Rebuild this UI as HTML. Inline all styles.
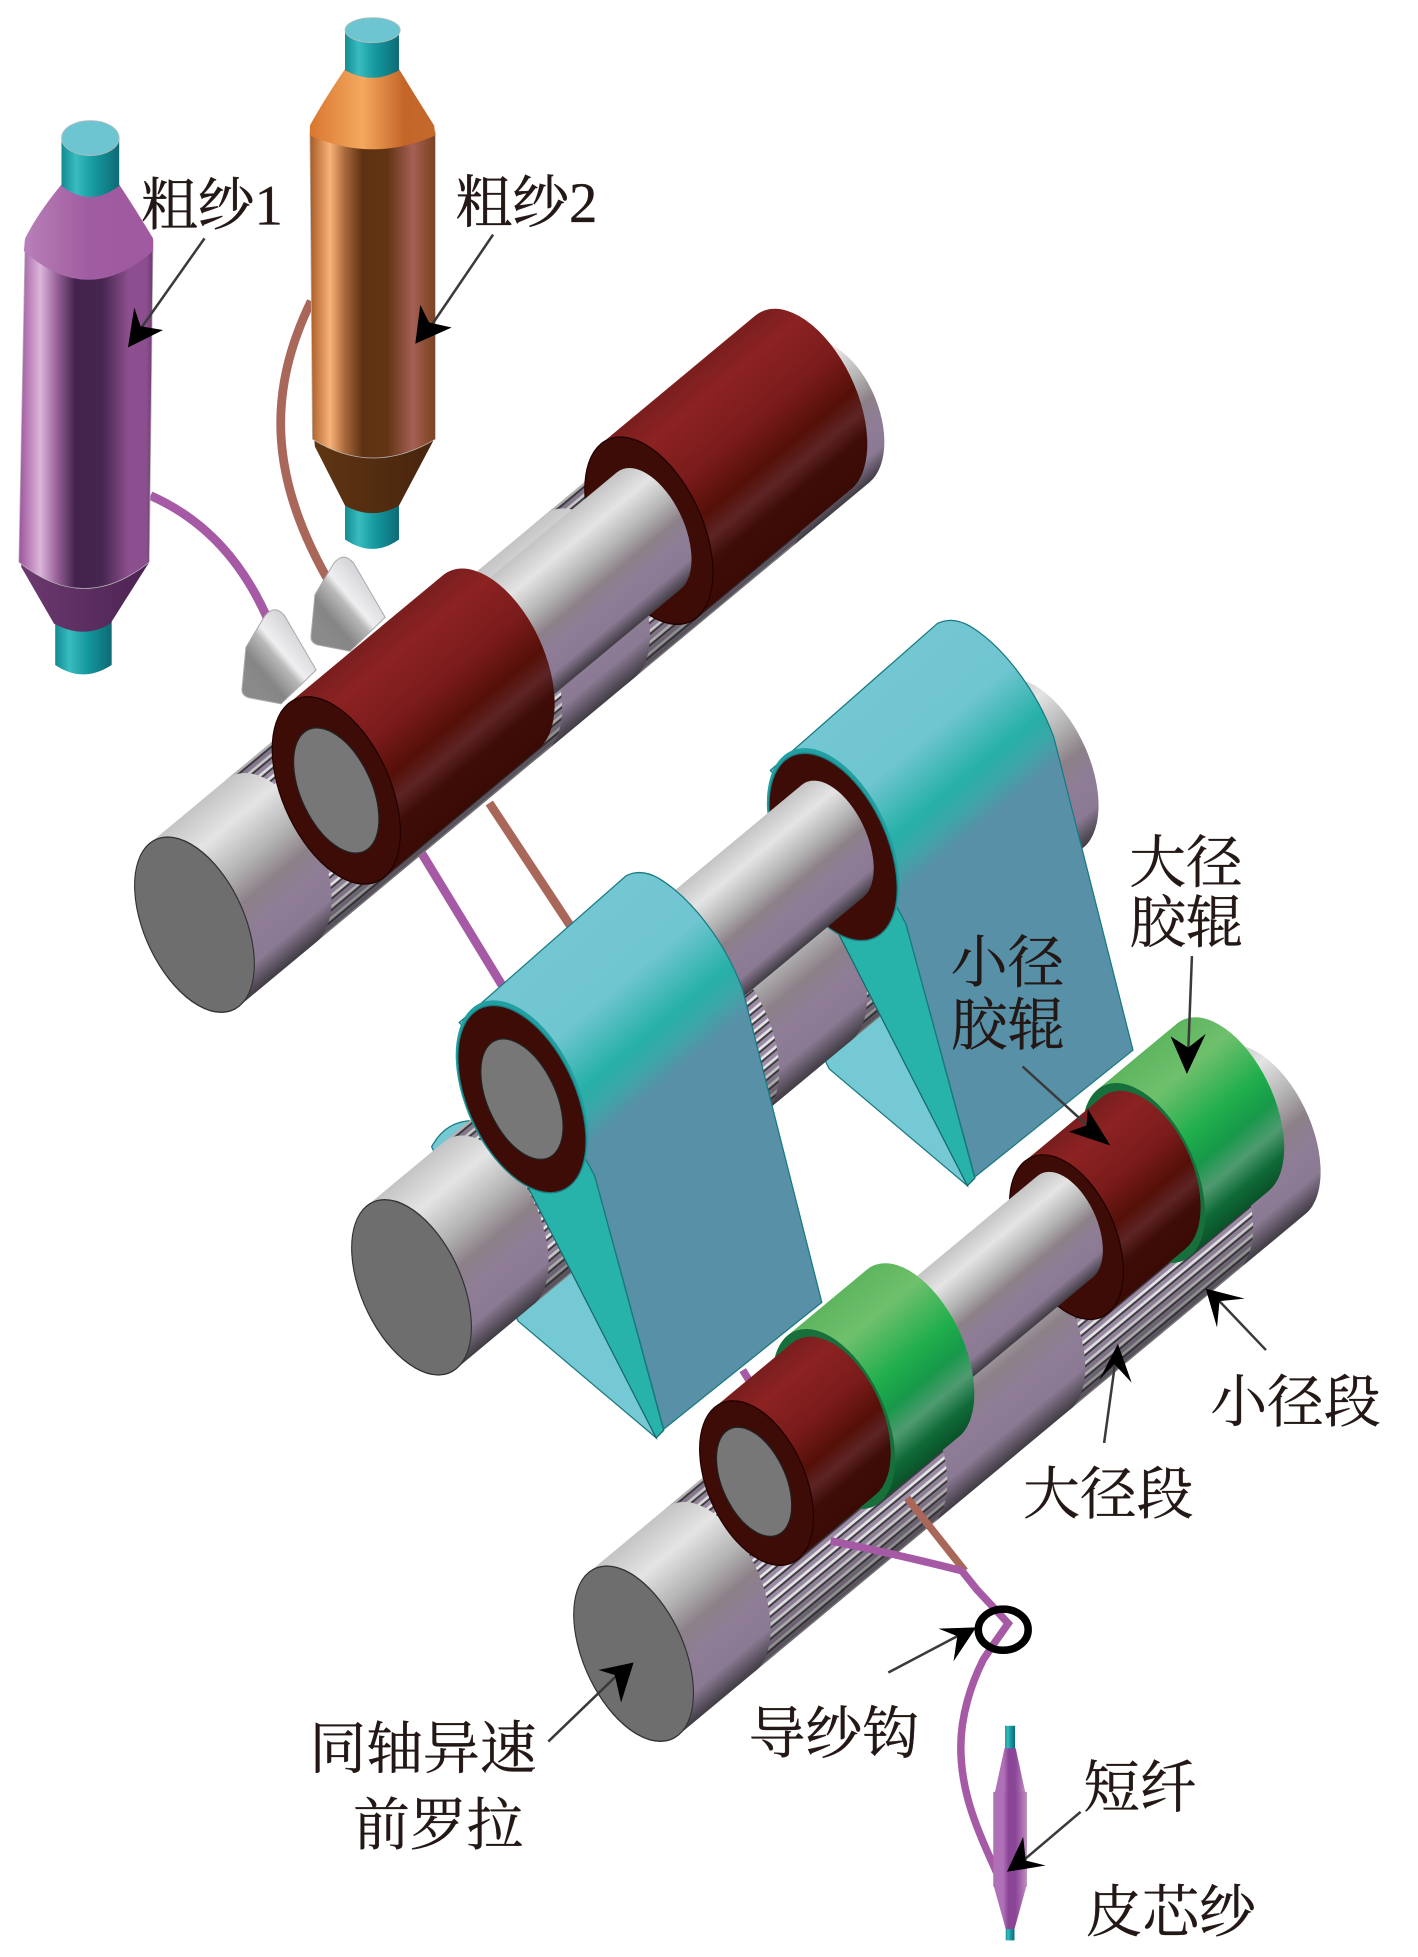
<!DOCTYPE html>
<html><head><meta charset="utf-8">
<style>html,body{margin:0;padding:0;background:#fff}svg{display:block}
text{font-family:"Liberation Serif","Noto Serif CJK SC",serif;font-size:45.5px;fill:#231815;stroke:#231815;stroke-width:.3}</style></head>
<body>
<svg xmlns="http://www.w3.org/2000/svg" width="1418" height="1957" viewBox="0 0 1136.4 1568.3" preserveAspectRatio="none">
<defs>
<linearGradient id="pb" x1="0" x2="1" y1="0" y2="0"><stop offset="0" stop-color="#9c539b"/><stop offset=".16" stop-color="#dcb6da"/><stop offset=".28" stop-color="#9a639b"/><stop offset=".42" stop-color="#43234d"/><stop offset=".62" stop-color="#46264f"/><stop offset=".82" stop-color="#8d4f8f"/><stop offset=".95" stop-color="#8b4e8e"/><stop offset="1" stop-color="#6e3b72"/></linearGradient>
<linearGradient id="ps" x1="0" x2="1" y1="0" y2="0"><stop offset="0" stop-color="#b070b5"/><stop offset=".3" stop-color="#b070b8"/><stop offset=".45" stop-color="#8a4596"/><stop offset=".65" stop-color="#8a4596"/><stop offset=".8" stop-color="#a060a8"/><stop offset="1" stop-color="#c090c0"/></linearGradient>
<linearGradient id="pc" x1="0" x2="1" y1="0" y2="0"><stop offset="0" stop-color="#b880b8"/><stop offset=".5" stop-color="#a05ca0"/><stop offset="1" stop-color="#a05aa0"/></linearGradient>
<linearGradient id="pl" x1="0" x2="1" y1="0" y2="0"><stop offset="0" stop-color="#6c3a70"/><stop offset="1" stop-color="#4c2352"/></linearGradient>
<linearGradient id="ob" x1="0" x2="1" y1="0" y2="0"><stop offset="0" stop-color="#a85a24"/><stop offset=".16" stop-color="#f8b37a"/><stop offset=".28" stop-color="#a8683a"/><stop offset=".42" stop-color="#5e3112"/><stop offset=".62" stop-color="#623414"/><stop offset=".82" stop-color="#a56055"/><stop offset=".93" stop-color="#8c4c30"/><stop offset="1" stop-color="#7a4325"/></linearGradient>
<linearGradient id="oc" x1="0" x2="1" y1="0" y2="0"><stop offset="0" stop-color="#d8772f"/><stop offset=".42" stop-color="#f5a85f"/><stop offset=".75" stop-color="#c46628"/><stop offset="1" stop-color="#c4682c"/></linearGradient>
<linearGradient id="ol" x1="0" x2="1" y1="0" y2="0"><stop offset="0" stop-color="#5f3613"/><stop offset="1" stop-color="#48240d"/></linearGradient>
<linearGradient id="tl" x1="0" x2="1" y1="0" y2="0"><stop offset="0" stop-color="#138a92"/><stop offset=".25" stop-color="#38bcc0"/><stop offset=".55" stop-color="#169aa0"/><stop offset="1" stop-color="#0d6a75"/></linearGradient>
<linearGradient id="sv" x1="0" x2="0" y1="0" y2="1"><stop offset="0" stop-color="#c4c4c4"/><stop offset=".2" stop-color="#e4e4e4"/><stop offset=".42" stop-color="#b2b2b2"/><stop offset=".58" stop-color="#8c8088"/><stop offset=".72" stop-color="#8f7d97"/><stop offset=".87" stop-color="#8b7a93"/><stop offset="1" stop-color="#403c44"/></linearGradient>
<linearGradient id="sd" x1="0" x2="0" y1="0" y2="1"><stop offset="0" stop-color="#333" stop-opacity=".3"/><stop offset=".12" stop-color="#333" stop-opacity="0"/><stop offset=".8" stop-color="#333" stop-opacity="0"/><stop offset="1" stop-color="#222" stop-opacity=".6"/></linearGradient>
<linearGradient id="rd" x1="0" x2="0" y1="0" y2="1"><stop offset="0" stop-color="#7a1e1e"/><stop offset=".16" stop-color="#8c2222"/><stop offset=".42" stop-color="#7a1b1b"/><stop offset=".62" stop-color="#551008"/><stop offset=".73" stop-color="#5d2425"/><stop offset=".83" stop-color="#3f0d07"/><stop offset="1" stop-color="#3a0a05"/></linearGradient>
<linearGradient id="gr" x1="0" x2="0" y1="0" y2="1"><stop offset="0" stop-color="#5fb55f"/><stop offset=".22" stop-color="#6fc06c"/><stop offset=".5" stop-color="#1fae4c"/><stop offset=".65" stop-color="#17994a"/><stop offset=".78" stop-color="#4f9a70"/><stop offset=".9" stop-color="#0f6a38"/><stop offset="1" stop-color="#0a5228"/></linearGradient>
<linearGradient id="bd" gradientUnits="userSpaceOnUse" x1="430" y1="750" x2="526" y2="865"><stop offset="0" stop-color="#73c7d3"/><stop offset=".45" stop-color="#70c6d0"/><stop offset=".75" stop-color="#26b0a8"/><stop offset=".87" stop-color="#3ba7a8"/><stop offset="1" stop-color="#5890a8"/></linearGradient>
<linearGradient id="cn" x1=".85" y1=".15" x2=".2" y2=".85"><stop offset="0" stop-color="#c8c6cb"/><stop offset=".45" stop-color="#efeff1"/><stop offset=".55" stop-color="#b8b8b8"/><stop offset=".8" stop-color="#858585"/><stop offset="1" stop-color="#8a8a8a"/></linearGradient>
<pattern id="ge" width="12" height="7" patternUnits="userSpaceOnUse"><rect width="12" height="7" fill="#9a8aa3"/><rect y="2.8" width="12" height="2.2" fill="#e6e6e6"/><rect y="5" width="12" height="1.6" fill="#3e3b42"/></pattern>

<g id="shaft12">
<rect x="361" y="-74" width="250" height="148" rx="41" ry="74" fill="url(#ge)"/>
<rect x="361" y="-74" width="250" height="148" rx="41" ry="74" fill="url(#sd)"/>
<rect x="271" y="-74" width="180" height="148" rx="41" ry="74" fill="url(#sv)"/>
<rect x="40" y="-74" width="320" height="148" rx="41" ry="74" fill="url(#ge)"/>
<rect x="40" y="-74" width="320" height="148" rx="41" ry="74" fill="url(#sd)"/>
<rect x="-41" y="-74" width="162" height="148" rx="41" ry="74" fill="url(#sv)"/>
<ellipse rx="41" ry="74" fill="#6e6e6e" stroke="#333" stroke-width="1"/>
</g>
<g id="rg">
<rect x="38" y="-76" width="166" height="152" rx="42" ry="76" fill="url(#gr)"/>
<ellipse cx="80" rx="42" ry="76" fill="#176f3c"/>
<rect x="-40" y="-69" width="160" height="138" rx="40" ry="69" fill="url(#rd)"/>
<ellipse rx="40" ry="69" fill="#3d0c06" stroke="#200" stroke-width="1"/>
</g>
<g id="band">
<polygon points="410,925 462,915 474,937 529,1140 523,1146" fill="#27b3a9" stroke="#17686c" stroke-width="1"/>
<path d="M366,815 L499,698 Q511,692 525,700 C550,715 578,750 592,789 L655,1038 L529,1139 L474,937 L462,915 Z" fill="url(#bd)" stroke="#1a7a80" stroke-width="1"/>
<ellipse rx="46" ry="81" transform="matrix(.769 -.639 .484 .875 416 874)" fill="#20a0a0"/>
<ellipse rx="44" ry="79" transform="matrix(.769 -.639 .484 .875 416 876)" fill="#3d0c06" stroke="#1a7a80" stroke-width="1"/>
</g>
<path id="back" d="M344,914 Q355,893 378,893 L430,900 L523,1146 L413,1053 Z" fill="#75c9d5" stroke="#1a7a80" stroke-width="1"/>
<path id="cone" d="M211,491 Q219,481 227,491 L252,534 L224,561 L198,556 Q192,554 193,548 L196,516 Z" fill="url(#cn)" stroke="#aaa" stroke-width=".8"/>
</defs>

<g transform="scale(1.0055)">
<!-- yarns -->
<path d="M120,395 C165,415 195,450 215,497" fill="none" stroke="#a65aa5" stroke-width="7"/>
<path d="M248,240 C214,310 212,380 266,470" fill="none" stroke="#a9675a" stroke-width="7"/>
<path d="M330,670 L400,785" fill="none" stroke="#a65aa5" stroke-width="7"/>
<path d="M390,640 L456,740" fill="none" stroke="#a9675a" stroke-width="7"/>
<path d="M592,1092 L603,1110" fill="none" stroke="#a65aa5" stroke-width="6"/>

<!-- purple bobbin -->
<path d="M44,490 L44,530 Q66,545 89,530 L89,490 Z" fill="url(#tl)"/>
<path d="M16,430 L118,430 L119,448 L88,497 Q67,510 43,497 L17,452 Z" fill="url(#pl)"/>
<path d="M20,192 L122,192 L119,448 Q67,490 15,448 Z" fill="url(#pb)" stroke="#bbb" stroke-width=".6"/>
<path d="M49,147 Q30,170 20,190 L19,200 Q70,246 122,200 L122,190 Q110,170 95,147 Z" fill="url(#pc)"/>
<path d="M49,110 L49,148 Q72,166 95,148 L95,110 Z" fill="url(#tl)"/>
<ellipse cx="72" cy="110" rx="23" ry="14" fill="#6ec5d2" stroke="#bbb" stroke-width=".6"/>

<!-- orange bobbin -->
<path d="M275,400 L275,430 Q297,445 318,430 L318,400 Z" fill="url(#tl)"/>
<path d="M249,335 L347,335 L345,352 L318,403 Q297,415 275,403 L251,356 Z" fill="url(#ol)"/>
<path d="M247,105 L347,105 L347,350 Q297,380 249,350 Z" fill="url(#ob)" stroke="#bbb" stroke-width=".6"/>
<path d="M275,55 Q258,80 247,100 L247,108 Q297,130 347,108 L346,100 Q332,78 318,55 Z" fill="url(#oc)"/>
<path d="M275,24 L275,56 Q297,68 318,56 L318,24 Z" fill="url(#tl)"/>
<ellipse cx="297" cy="24" rx="22" ry="10" fill="#6ec5d2" stroke="#bbb" stroke-width=".6"/>

<!-- cones -->
<use href="#cone"/>
<use href="#cone" transform="translate(55,-42)"/>

<!-- roller 1 -->
<g transform="matrix(.769 -.639 .484 .875 155 737)">
<rect x="519" y="-50" width="172" height="124" rx="38" ry="62" fill="url(#sv)"/>
<use href="#shaft12"/>
</g>
<g transform="matrix(.769 -.639 .484 .875 268 630)">
<rect x="280" y="-79" width="248" height="158" rx="44" ry="79" fill="url(#rd)"/>
<ellipse cx="324" rx="44" ry="79" fill="#3d0c06" stroke="#200" stroke-width="1"/>
<rect x="-29" y="-53" width="382" height="106" rx="29" ry="53" fill="url(#sv)"/>
<rect x="-44" y="-79" width="248" height="158" rx="44" ry="79" fill="url(#rd)"/>
<ellipse rx="44" ry="79" fill="#3d0c06" stroke="#200" stroke-width="1"/>
<ellipse rx="29" ry="53" fill="#777" stroke="#222" stroke-width="1"/>
</g>

<!-- roller 2 with aprons -->
<use href="#back" transform="translate(248,-201)"/>
<use href="#back"/>
<g transform="matrix(.769 -.639 .484 .875 328 1026)">
<rect x="519" y="-74" width="172" height="148" rx="41" ry="74" fill="url(#sv)"/>
<use href="#shaft12"/>
</g>
<use href="#band" transform="translate(248,-201)"/>
<rect x="-28" y="-51" width="378" height="102" rx="28" ry="51" fill="url(#sv)" transform="matrix(.769 -.639 .484 .875 416 876)"/>
<use href="#band"/>
<ellipse rx="28" ry="51" fill="#777" stroke="#222" stroke-width="1" transform="matrix(.769 -.639 .484 .875 416 876)"/>

<!-- roller 3 -->
<g transform="matrix(.769 -.639 .484 .875 505 1318)">
<rect x="539" y="-74" width="152" height="148" rx="41" ry="74" fill="url(#sv)"/>
<rect x="459" y="-74" width="162" height="148" rx="41" ry="74" fill="url(#ge)"/>
<rect x="459" y="-74" width="162" height="148" rx="41" ry="74" fill="url(#sd)"/>
<rect x="365" y="-74" width="176" height="148" rx="41" ry="74" fill="url(#ge)"/>
<rect x="365" y="-74" width="176" height="148" rx="41" ry="74" fill="url(#sd)"/>
<rect x="222" y="-74" width="225" height="148" rx="41" ry="74" fill="url(#sv)"/>
<rect x="40" y="-74" width="264" height="148" rx="41" ry="74" fill="url(#ge)"/>
<rect x="40" y="-74" width="264" height="148" rx="41" ry="74" fill="url(#sd)"/>
<rect x="-41" y="-74" width="162" height="148" rx="41" ry="74" fill="url(#sv)"/>
<ellipse rx="41" ry="74" fill="#6e6e6e" stroke="#333" stroke-width="1"/>
</g>
<use href="#rg" transform="matrix(.769 -.639 .484 .875 850 986)"/>
<rect x="-26" y="-46" width="372" height="92" rx="26" ry="46" fill="url(#sv)" transform="matrix(.769 -.639 .484 .875 603 1182)"/>
<use href="#rg" transform="matrix(.769 -.639 .484 .875 603 1182)"/>
<ellipse rx="26" ry="46" fill="#777" stroke="#222" stroke-width="1" transform="matrix(.769 -.639 .484 .875 601 1181)"/>

<!-- lower yarn branches -->
<path d="M723,1194 L769,1252" fill="none" stroke="#a9675a" stroke-width="6"/>
<path d="M662,1228 Q720,1240 767,1252" fill="none" stroke="#a65aa5" stroke-width="6"/>

<!-- arrows -->
<g stroke="#3a3a3a" stroke-width="2" fill="none">
<line x1="163" y1="190" x2="110" y2="265"/>
<line x1="393" y1="187" x2="340" y2="265"/>
<line x1="950" y1="762" x2="947" y2="840"/>
<line x1="815" y1="850" x2="870" y2="900"/>
<line x1="1009" y1="1076" x2="970" y2="1035"/>
<line x1="880" y1="1150" x2="889" y2="1085"/>
<line x1="708" y1="1333" x2="765" y2="1303"/>
<line x1="437" y1="1388" x2="492" y2="1335"/>
</g>
<g fill="#000">
<polygon points="102,277 107,245 112,260 130,263"/>
<polygon points="331,274 335,243 342,257 360,261"/>
<polygon points="946,856 933,826 947,835 961,824"/>
<polygon points="885,913 852,902 866,897 867,884"/>
<polygon points="961,1027 992,1035 972,1037 970,1058"/>
<polygon points="891,1071 876,1100 888,1087 902,1102"/>
<polygon points="778,1297 748,1298 763,1304 760,1324"/>
<polygon points="505,1325 477,1331 490,1335 495,1357"/>
</g>
</g>

<!-- yarn through hook and on to spindle -->
<path d="M771,1259 L783,1274 L796,1288 L808,1301 L796,1318 L788,1330 C778,1350 770,1375 770,1400 C770,1440 785,1470 803,1510" fill="none" stroke="#a65aa5" stroke-width="6"/>
<ellipse cx="804" cy="1306" rx="20" ry="16.5" fill="none" stroke="#000" stroke-width="6"/>

<!-- small spindle -->
<rect x="805.5" y="1383" width="8" height="20" fill="url(#tl)"/>
<rect x="806" y="1544" width="7" height="11" fill="url(#tl)"/>
<path d="M805,1401 L814,1401 L822,1438 L797,1438 Z" fill="url(#ps)"/>
<path d="M796,1436 L823,1436 L823,1512 L796,1512 Z" fill="url(#ps)"/>
<path d="M796,1510 L823,1510 L813,1546 L806,1546 Z" fill="url(#ps)"/>
<line x1="866" y1="1452" x2="820" y2="1491" stroke="#3a3a3a" stroke-width="2"/>
<polygon points="807,1500 820,1472 822,1491 838,1495" fill="#000"/>

<!-- labels -->
<text x="113" y="180">粗纱1</text>
<text x="365" y="178">粗纱2</text>
<text x="905" y="707">大径</text>
<text x="905" y="755">胶辊</text>
<text x="762" y="787">小径</text>
<text x="762" y="837">胶辊</text>
<text x="970" y="1139">小径段</text>
<text x="820" y="1213">大径段</text>
<text x="248" y="1417">同轴异速</text>
<text x="283" y="1478">前罗拉</text>
<text x="600" y="1405">导纱钩</text>
<text x="868" y="1448">短纤</text>
<text x="870" y="1548">皮芯纱</text>
</svg>
</body></html>
